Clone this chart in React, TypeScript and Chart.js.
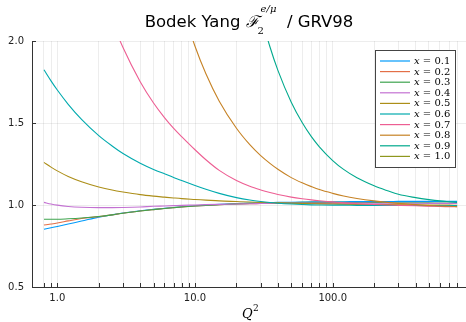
import React, { useEffect, useRef } from 'react';
import { Chart, registerables } from 'chart.js';
Chart.register(...registerables);

const Q2 = [0.8, 0.9, 1, 1.2, 1.5, 2, 2.5, 3, 4, 5, 6, 7, 8, 10, 12, 15, 20, 25, 30, 35, 40, 50, 60, 70, 80, 100, 120, 150, 200, 250, 300, 400, 500, 600, 700, 800];

const X01 = [0.852, 0.861, 0.869, 0.884, 0.902, 0.926, 0.940, 0.951, 0.965, 0.974, 0.980, 0.985, 0.989, 0.995, 0.999, 1.004, 1.009, 1.012, 1.014, 1.015, 1.016, 1.017, 1.018, 1.019, 1.019, 1.020, 1.020, 1.021, 1.021, 1.021, 1.022, 1.022, 1.022, 1.022, 1.022, 1.022];
const X02 = [0.878, 0.884, 0.890, 0.903, 0.918, 0.929, 0.940, 0.950, 0.963, 0.972, 0.979, 0.984, 0.988, 0.994, 0.998, 1.002, 1.006, 1.008, 1.009, 1.010, 1.010, 1.010, 1.010, 1.009, 1.009, 1.008, 1.007, 1.006, 1.004, 1.002, 1.000, 0.998, 0.996, 0.994, 0.993, 0.992];
const X03 = [0.913, 0.913, 0.913, 0.916, 0.921, 0.930, 0.940, 0.950, 0.963, 0.972, 0.979, 0.984, 0.988, 0.994, 0.998, 1.002, 1.007, 1.010, 1.012, 1.013, 1.014, 1.015, 1.016, 1.016, 1.016, 1.016, 1.016, 1.015, 1.015, 1.014, 1.014, 1.013, 1.013, 1.012, 1.012, 1.012];
const X04 = [1.016, 1.006, 0.999, 0.991, 0.986, 0.984, 0.984, 0.985, 0.988, 0.992, 0.994, 0.996, 0.998, 1.000, 1.002, 1.004, 1.006, 1.008, 1.009, 1.010, 1.011, 1.012, 1.012, 1.012, 1.012, 1.012, 1.012, 1.012, 1.011, 1.011, 1.011, 1.011, 1.010, 1.010, 1.010, 1.010];
const X05 = [1.260, 1.231, 1.208, 1.174, 1.142, 1.110, 1.091, 1.079, 1.063, 1.054, 1.048, 1.043, 1.039, 1.034, 1.030, 1.025, 1.021, 1.018, 1.016, 1.014, 1.013, 1.011, 1.009, 1.008, 1.007, 1.006, 1.005, 1.004, 1.003, 1.002, 1.001, 1.000, 1.000, 0.999, 0.999, 0.998];
const X06 = [1.825, 1.757, 1.701, 1.614, 1.522, 1.423, 1.360, 1.314, 1.255, 1.217, 1.190, 1.168, 1.149, 1.119, 1.096, 1.071, 1.045, 1.030, 1.021, 1.015, 1.011, 1.006, 1.003, 1.001, 1.000, 0.999, 0.999, 0.998, 0.998, 0.997, 0.997, 0.997, 0.996, 0.996, 0.996, 0.996];
const X07 = [3.95, 3.67, 3.44, 3.09, 2.73, 2.355, 2.122, 1.960, 1.752, 1.622, 1.533, 1.467, 1.417, 1.337, 1.276, 1.211, 1.149, 1.114, 1.092, 1.076, 1.064, 1.048, 1.038, 1.031, 1.026, 1.019, 1.013, 1.008, 1.003, 1.000, 0.998, 0.995, 0.993, 0.991, 0.990, 0.989];
const X08 = [14.07, 12.57, 11.38, 9.61, 7.84, 6.08, 5.04, 4.35, 3.49, 2.98, 2.64, 2.40, 2.22, 1.968, 1.800, 1.633, 1.468, 1.368, 1.301, 1.254, 1.218, 1.167, 1.135, 1.112, 1.094, 1.071, 1.055, 1.040, 1.025, 1.016, 1.010, 1.002, 0.997, 0.994, 0.992, 0.990];
const X09 = [94, 82, 72, 58, 44.6, 31.8, 24.5, 19.9, 14.3, 11.2, 9.16, 7.77, 6.76, 5.4, 4.53, 3.69, 2.9, 2.45, 2.163, 1.965, 1.821, 1.627, 1.503, 1.417, 1.355, 1.271, 1.217, 1.166, 1.117, 1.087, 1.065, 1.045, 1.033, 1.025, 1.020, 1.016];
const X10 = [400, 360, 330, 280, 230, 175, 140, 118, 90, 73, 62, 53, 47, 38, 32, 26, 20, 16.5, 14, 12.2, 10.9, 9, 7.7, 6.8, 6.1, 5.1, 4.5, 3.8, 3.2, 2.95, 2.8, 2.7, 2.65, 2.6, 2.57, 2.55];

const SERIES = [X01, X02, X03, X04, X05, X06, X07, X08, X09, X10];
const SERIES_LABELS = ['0.1', '0.2', '0.3', '0.4', '0.5', '0.6', '0.7', '0.8', '0.9', '1.0'];
const COLORS = ['#009AFA', '#E36F47', '#3EA44E', '#C371D2', '#AC8E18', '#00AAAE', '#ED5E93', '#C68225', '#00A98D', '#8E971E'];

const X_TICKS = [0.8, 0.9, 1, 2, 3, 4, 5, 6, 7, 8, 9, 10, 20, 30, 40, 50, 60, 70, 80, 90, 100, 200, 300, 400, 500, 600, 700, 800];
const X_LABELED: Record<number, string> = { 1: '1.0', 10: '10.0', 100: '100.0' };
const Y_TICKS = [0.5, 1.0, 1.5, 2.0];

const overlayPlugin = {
  id: 'overlay',
  afterDraw(chart: any) {
    const ctx = chart.ctx as CanvasRenderingContext2D;
    const area = chart.chartArea;
    const xs = chart.scales.x;
    const ys = chart.scales.y;
    ctx.save();
    ctx.strokeStyle = '#333';
    ctx.lineWidth = 1;
    ctx.beginPath();
    X_TICKS.forEach((v) => {
      const px = Math.round(xs.getPixelForValue(v)) + 0.5;
      ctx.moveTo(px, area.bottom);
      ctx.lineTo(px, area.bottom - 4);
    });
    Y_TICKS.forEach((v) => {
      const py = Math.round(ys.getPixelForValue(v)) + 0.5;
      ctx.moveTo(area.left, py);
      ctx.lineTo(area.left + 4, py);
    });
    ctx.stroke();

    ctx.fillStyle = '#000';
    ctx.textBaseline = 'alphabetic';
    ctx.textAlign = 'left';
    const base = 27;
    const fMain = '16.5px "DejaVu Sans"';
    const fScript = 'italic 16px "DejaVu Serif"';
    const fSmall = '10px "DejaVu Serif"';
    const fSmallI = 'italic 10px "DejaVu Serif"';
    const t1 = 'Bodek Yang ';
    const t2 = '\u2131';
    const sub = '2';
    const sup = 'e/\u03bc';
    const t3 = '  / GRV98';
    ctx.font = fMain; const w1 = ctx.measureText(t1).width; const w3 = ctx.measureText(t3).width;
    ctx.font = fScript; const w2 = ctx.measureText(t2).width;
    ctx.font = fSmallI; const wsup = ctx.measureText(sup).width;
    const total = w1 + w2 + 2 + wsup + w3;
    let x = (area.left + area.right) / 2 - total / 2;
    ctx.font = fMain; ctx.fillText(t1, x, base); x += w1;
    ctx.font = fScript; ctx.fillText(t2, x, base); x += w2;
    ctx.font = fSmall; ctx.fillText(sub, x - 1, base + 7);
    ctx.font = fSmallI; ctx.fillText(sup, x + 2, base - 15);
    x += 2 + wsup;
    ctx.font = fMain; ctx.fillText(t3, x, base);

    ctx.font = 'italic 13px "DejaVu Serif"';
    ctx.fillText('Q', 242, 318);
    ctx.font = '9px "DejaVu Serif"';
    ctx.fillText('2', 253, 311);

    const lx = 375.5, ly = 50.5, lw = 80, lh = 117;
    ctx.fillStyle = '#fff';
    ctx.fillRect(lx, ly, lw, lh);
    ctx.strokeStyle = '#444';
    ctx.lineWidth = 1;
    ctx.strokeRect(lx, ly, lw, lh);
    SERIES_LABELS.forEach((lab, i) => {
      const y = 61 + i * 10.6;
      ctx.strokeStyle = COLORS[i];
      ctx.lineWidth = 1.2;
      ctx.beginPath();
      ctx.moveTo(380, y);
      ctx.lineTo(410, y);
      ctx.stroke();
      ctx.fillStyle = '#000';
      ctx.textBaseline = 'middle';
      ctx.font = 'italic 10px "DejaVu Serif"';
      ctx.fillText('x', 414, y + 0.5);
      const wx = ctx.measureText('x').width;
      ctx.font = '10px "DejaVu Serif"';
      ctx.fillText(' = ' + lab, 414 + wx, y + 0.5);
    });
    ctx.restore();
  },
};

export default function App() {
  const ref = useRef<HTMLCanvasElement | null>(null);
  useEffect(() => {
    if (!ref.current) return;
    const chart = new Chart(ref.current, {
      type: 'line',
      data: {
        datasets: SERIES.map((vals, i) => ({
          label: 'x = ' + SERIES_LABELS[i],
          data: Q2.map((q, j) => ({ x: q, y: vals[j] })),
          borderColor: COLORS[i],
          backgroundColor: COLORS[i],
          borderWidth: 1.1,
          pointRadius: 0,
          fill: false,
          cubicInterpolationMode: 'monotone',
          order: 10 - i,
        })),
      },
      options: {
        responsive: false,
        animation: false,
        layout: { padding: { top: 41, right: 0, left: 0, bottom: 0 } },
        plugins: {
          legend: { display: false },
          tooltip: { enabled: false },
          title: { display: false },
        },
        scales: {
          x: {
            type: 'logarithmic',
            min: 0.655,
            max: 929,
            afterBuildTicks: (s: any) => {
              s.ticks = X_TICKS.map((v) => ({ value: v }));
            },
            afterFit: (s: any) => {
              s.height = 35;
            },
            grid: { color: 'rgba(0,0,0,0.07)', drawTicks: false, lineWidth: 1 },
            border: { display: true, color: '#333', width: 1 },
            ticks: {
              autoSkip: false,
              maxRotation: 0,
              minRotation: 0,
              padding: 5,
              color: '#222',
              font: { family: 'DejaVu Sans', size: 10 },
              callback: (v: any) => X_LABELED[Number(v)] ?? '',
            },
          },
          y: {
            min: 0.5,
            max: 2.0,
            afterBuildTicks: (s: any) => {
              s.ticks = Y_TICKS.map((v) => ({ value: v }));
            },
            afterFit: (s: any) => {
              s.width = 32;
            },
            grid: { color: 'rgba(0,0,0,0.07)', drawTicks: false, lineWidth: 1 },
            border: { display: true, color: '#333', width: 1 },
            ticks: {
              padding: 8,
              color: '#222',
              font: { family: 'DejaVu Sans', size: 10 },
              callback: (v: any) => Number(v).toFixed(1),
            },
          },
        },
      },
      plugins: [overlayPlugin],
    } as any);
    return () => chart.destroy();
  }, []);
  return (
    <div style={{ position: 'fixed', left: 0, top: 0, width: 466, height: 322, background: '#fff' }}>
      <canvas ref={ref} width={466} height={322} style={{ width: 466, height: 322, display: 'block' }} />
    </div>
  );
}
